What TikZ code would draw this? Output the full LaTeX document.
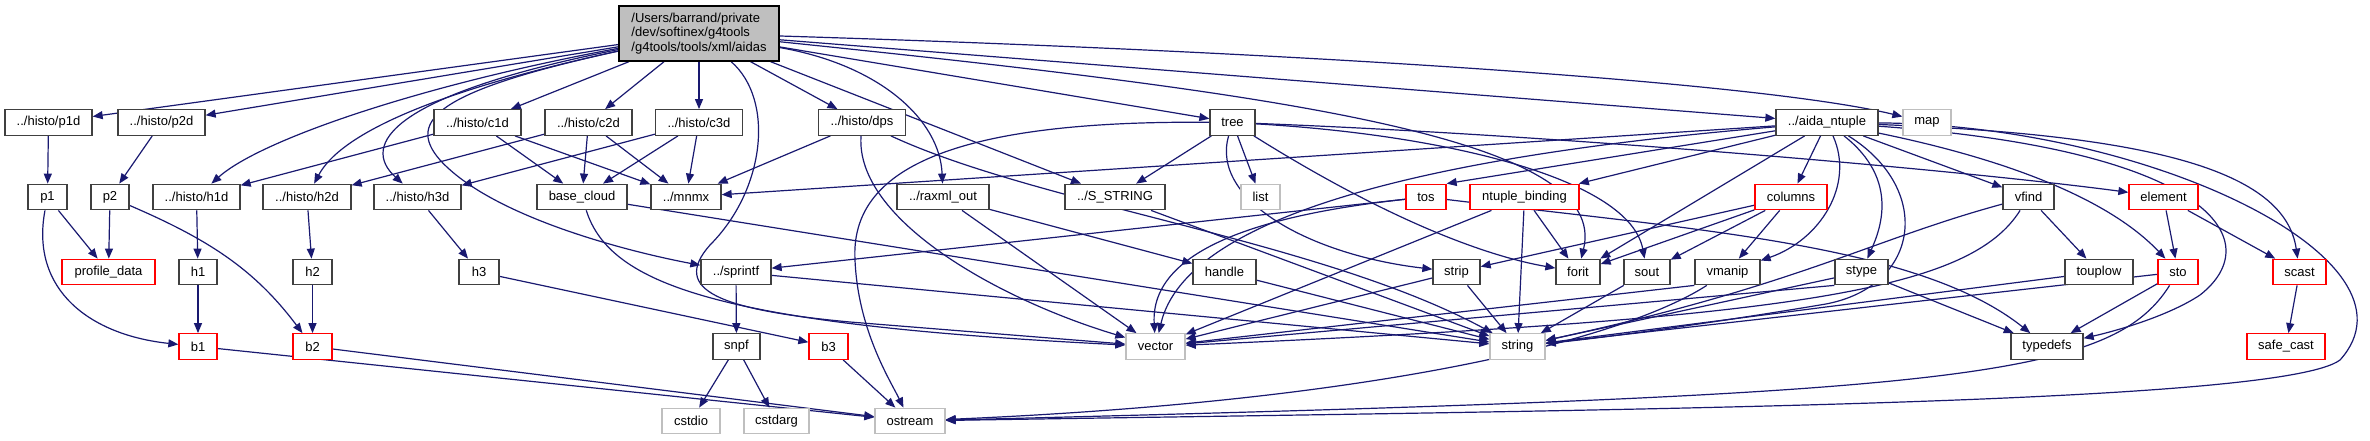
\documentclass[tikz,border=0pt]{standalone}
\usepackage{fontspec}
\setmainfont{Liberation Sans}
\usetikzlibrary{arrows.meta}
\pgfdeclarelayer{bg}
\pgfsetlayers{bg,main}
\definecolor{edgec}{HTML}{191970}
\definecolor{nodeb}{HTML}{404040}
\definecolor{redb}{HTML}{FF0000}
\definecolor{grayb}{HTML}{BFBFBF}
\tikzset{
 nb/.style={draw=nodeb, line width=1.3pt, fill=white, minimum height=25.5pt, inner sep=0pt, font=\fontsize{13}{15}\selectfont},
 rb/.style={nb, draw=redb},
 gb/.style={nb, draw=grayb},
 e/.style={draw=edgec, line width=1.2pt, -{Triangle[length=10pt,width=8pt]}},
}
\begin{document}
\begin{tikzpicture}[x=1pt,y=-1pt]
\useasboundingbox (0,0) rectangle (2370,440);
% main
\node[draw=black, fill=grayb, line width=1.3pt, minimum width=160pt, minimum height=55pt, inner sep=0pt, align=left, font=\fontsize{13}{14.7}\selectfont] (main) at (699,33.5) {/Users/barrand/private\\/dev/softinex/g4tools\\/g4tools/tools/xml/aidas};
% row 1
\node[nb, minimum width=87pt] (p1d) at (48.5,122.5) {../histo/p1d};
\node[nb, minimum width=87pt] (p2d) at (161.5,122.5) {../histo/p2d};
\node[nb, minimum width=87pt] (c1d) at (477.5,122.5) {../histo/c1d};
\node[nb, minimum width=87pt] (c2d) at (588.5,122.5) {../histo/c2d};
\node[nb, minimum width=87pt] (c3d) at (699,122.5) {../histo/c3d};
\node[nb, minimum width=87pt] (dps) at (862,122.5) {../histo/dps};
\node[nb, minimum width=45pt] (tree) at (1232.5,122.5) {tree};
\node[nb, minimum width=102pt] (aida) at (1827,122.5) {../aida\_ntuple};
\node[gb, minimum width=48pt] (map) at (1927,122.5) {map};
% row 2
\node[nb, minimum width=39pt] (p1) at (47.5,197) {p1};
\node[nb, minimum width=38pt] (p2) at (110,197) {p2};
\node[nb, minimum width=87pt] (h1d) at (196.5,197) {../histo/h1d};
\node[nb, minimum width=88pt] (h2d) at (307,197) {../histo/h2d};
\node[nb, minimum width=87pt] (h3d) at (417.5,197) {../histo/h3d};
\node[nb, minimum width=90pt] (basecloud) at (582,197) {base\_cloud};
\node[nb, minimum width=70pt] (mnmx) at (686,197) {../mnmx};
\node[nb, minimum width=92pt] (raxmlout) at (943,197) {../raxml\_out};
\node[nb, minimum width=100pt] (sstring) at (1115,197) {../S\_STRING};
\node[gb, minimum width=39pt] (list) at (1260.5,197) {list};
\node[rb, minimum width=40pt] (tos) at (1426,197) {tos};
\node[rb, minimum width=109pt] (ntb) at (1524.5,197) {ntuple\_binding};
\node[rb, minimum width=72pt] (columns) at (1791,197) {columns};
\node[nb, minimum width=51pt] (vfind) at (2028.5,197) {vfind};
\node[rb, minimum width=69pt] (element) at (2163.5,197) {element};
% row 3
\node[rb, minimum width=93pt] (profdata) at (108.5,272) {profile\_data};
\node[nb, minimum width=38pt] (h1) at (198,272) {h1};
\node[nb, minimum width=39pt] (h2) at (312.5,272) {h2};
\node[nb, minimum width=40pt] (h3) at (479,272) {h3};
\node[nb, minimum width=70pt] (sprintf) at (736,272) {../sprintf};
\node[nb, minimum width=63pt] (handle) at (1224.5,272) {handle};
\node[nb, minimum width=47pt] (strip) at (1456.5,272) {strip};
\node[nb, minimum width=44pt] (forit) at (1578,272) {forit};
\node[nb, minimum width=46pt] (sout) at (1647,272) {sout};
\node[nb, minimum width=65pt] (vmanip) at (1727.5,272) {vmanip};
\node[nb, minimum width=53pt] (stype) at (1861.5,272) {stype};
\node[nb, minimum width=68pt] (touplow) at (2099,272) {touplow};
\node[rb, minimum width=40pt] (sto) at (2178,272) {sto};
\node[rb, minimum width=53pt] (scast) at (2299.5,272) {scast};
% row 4
\node[rb, minimum width=38pt] (b1) at (198,346.5) {b1};
\node[rb, minimum width=39pt] (b2) at (312.5,346.5) {b2};
\node[nb, minimum width=47pt] (snpf) at (736.5,346.5) {snpf};
\node[rb, minimum width=39pt] (b3) at (828.5,346.5) {b3};
\node[gb, minimum width=59pt] (vector) at (1155.5,346.5) {vector};
\node[gb, minimum width=55pt] (string) at (1517.5,346.5) {string};
\node[nb, minimum width=72pt] (typedefs) at (2047,346.5) {typedefs};
\node[rb, minimum width=78pt] (safecast) at (2286,346.5) {safe\_cast};
% row 5
\node[gb, minimum width=58pt] (cstdio) at (691,421) {cstdio};
\node[gb, minimum width=65pt] (cstdarg) at (776.5,421) {cstdarg};
\node[gb, minimum width=70pt] (ostream) at (910,421) {ostream};

\begin{pgfonlayer}{bg}
% main
\draw[e] (main) -- (p1d);
\draw[e] (main) -- (p2d);
\draw[e] (main) .. controls (420,85) and (260,140) .. (h1d);
\draw[e] (main) .. controls (430,92) and (340,135) .. (h2d);
\draw[e] (main) .. controls (390,95) and (360,145) .. (h3d);
\draw[e] (main) -- (c1d);
\draw[e] (main) -- (c2d);
\draw[e] (main) -- (c3d);
\draw[e] (main) -- (dps);
\draw[e] (main) .. controls (440,90) and (405,120) .. (440,160) .. controls (490,215) and (620,250) .. (sprintf);
\draw[e] (main) .. controls (775,100) and (765,190) .. (710,245) .. controls (670,290) and (720,310) .. (850,322) -- (vector);
\draw[e] (main) .. controls (880,65) and (940,120) .. (raxmlout);
\draw[e] (main) -- (sstring);
\draw[e] (main) -- (tree);
\draw[e] (main) -- (aida);
\draw[e] (main) .. controls (1300,52) and (1760,82) .. (map);
\draw[e] (main) .. controls (1300,95) and (1610,140) .. (forit);
% histo
\draw[e] (c1d) -- (h1d);
\draw[e] (c1d) -- (basecloud);
\draw[e] (c1d) -- (mnmx);
\draw[e] (c2d) -- (h2d);
\draw[e] (c2d) -- (basecloud);
\draw[e] (c2d) -- (mnmx);
\draw[e] (c3d) -- (h3d);
\draw[e] (c3d) -- (basecloud);
\draw[e] (c3d) -- (mnmx);
\draw[e] (dps) -- (mnmx);
\draw[e] (dps) .. controls (855,220) and (1000,300) .. (vector);
\draw[e] (dps) .. controls (1040,205) and (1320,240) .. (string);
\draw[e] (basecloud) .. controls (610,285) and (720,325) .. (vector);
\draw[e] (basecloud) -- (string);
\draw[e] (h1d) -- (h1);
\draw[e] (h1) -- (b1);
\draw[e] (h2d) -- (h2);
\draw[e] (h2) -- (b2);
\draw[e] (h3d) -- (h3);
\draw[e] (h3) -- (b3);
\draw[e] (p1d) -- (p1);
\draw[e] (p1) -- (profdata);
\draw[e] (p1) .. controls (30,290) and (90,335) .. (b1);
\draw[e] (p2d) -- (p2);
\draw[e] (p2) -- (profdata);
\draw[e] (p2) .. controls (210,240) and (255,270) .. (b2);
\draw[e] (b1) -- (ostream);
\draw[e] (b2) -- (ostream);
\draw[e] (b3) -- (ostream);
\draw[e] (sprintf) -- (snpf);
\draw[e] (sprintf) -- (string);
\draw[e] (snpf) -- (cstdio);
\draw[e] (snpf) -- (cstdarg);
\draw[e] (raxmlout) -- (vector);
\draw[e] (raxmlout) -- (handle);
\draw[e] (handle) -- (string);
\draw[e] (sstring) -- (string);
% tree
\draw[e] (tree) -- (list);
\draw[e] (tree) -- (sstring);
\draw[e] (tree) .. controls (1380,215) and (1480,255) .. (forit);
\draw[e] (tree) .. controls (1210,200) and (1310,255) .. (strip);
\draw[e] (tree) .. controls (1560,135) and (1960,170) .. (element);
\draw[e] (tree) .. controls (950,120) and (850,170) .. (855,260) .. controls (858,330) and (890,380) .. (ostream);
\draw[e] (tree) .. controls (1450,135) and (1630,180) .. (sout);
% tos etc
\draw[e] (tos) -- (sprintf);
\draw[e] (tos) .. controls (1260,215) and (1150,250) .. (vector);
\draw[e] (tos) .. controls (1700,230) and (1920,245) .. (typedefs);
\draw[e] (ntb) -- (vector);
\draw[e] (ntb) -- (string);
\draw[e] (ntb) -- (forit);
\draw[e] (columns) -- (strip);
\draw[e] (columns) -- (forit);
\draw[e] (columns) -- (sout);
\draw[e] (columns) -- (vmanip);
\draw[e] (strip) -- (vector);
\draw[e] (strip) -- (string);
\draw[e] (sout) -- (string);
\draw[e] (vmanip.south west) -- (vector);
\draw[e] (vmanip) .. controls (1630,335) and (1400,400) .. (ostream);
\draw[e] (stype.south west) -- (vector);
\draw[e] (stype) -- (string);
\draw[e] (stype) -- (typedefs);
\draw[e] (vfind) -- (touplow);
\draw[e] (vfind) .. controls (1970,290) and (1800,318) .. (vector);
\draw[e] (vfind) .. controls (1870,240) and (1800,285) .. (string);
\draw[e] (touplow) -- (string);
\draw[e] (sto) -- (typedefs);
\draw[e] (sto) -- (string);
\draw[e] (sto) .. controls (2110,380) and (1950,395) .. (ostream);
\draw[e] (element) -- (sto);
\draw[e] (element) -- (scast);
\draw[e] (scast) -- (safecast);
% aida_ntuple
\draw[e] (aida) -- (mnmx);
\draw[e] (aida) .. controls (1500,150) and (1190,200) .. (vector);
\draw[e] (aida) -- (tos.north east);
\draw[e] (aida) -- (ntb);
\draw[e] (aida) -- (columns);
\draw[e] (aida) -- (forit);
\draw[e] (aida) .. controls (1855,185) and (1820,240) .. (vmanip);
\draw[e] (aida) .. controls (1900,180) and (1880,230) .. (stype);
\draw[e] (aida) .. controls (1935,190) and (1920,290) .. (1820,305) .. controls (1700,325) and (1600,338) .. (string);
\draw[e] (aida) -- (vfind);
\draw[e] (aida) .. controls (2010,160) and (2110,200) .. (sto);
\draw[e] (aida) .. controls (2150,135) and (2285,170) .. (scast);
\draw[e] (aida) .. controls (2210,150) and (2270,240) .. (2200,295) .. controls (2170,315) and (2120,330) .. (typedefs);
\draw[e] (aida) .. controls (2150,125) and (2430,260) .. (2340,360) .. controls (2280,405) and (1600,410) .. (ostream);
\end{pgfonlayer}
\end{tikzpicture}
\end{document}
